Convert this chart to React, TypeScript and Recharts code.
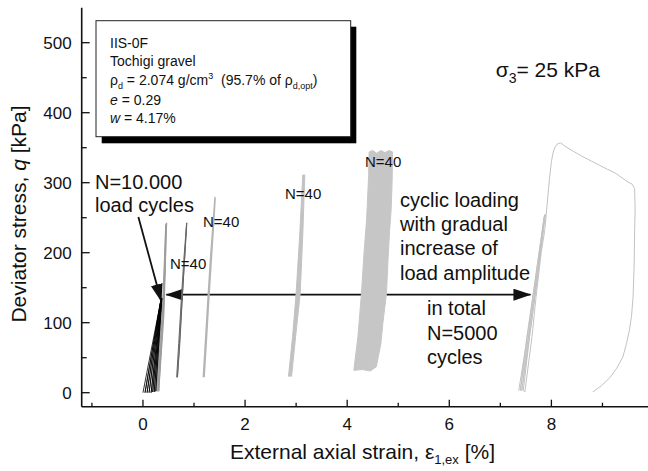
import React from 'react';
import { ScatterChart, Scatter, XAxis, YAxis, ReferenceLine } from 'recharts';

type Pt = [number, number];

// Axis ticks
const X_TICKS = [-1, 0, 1, 2, 3, 4, 5, 6, 7, 8, 9];
const X_LABELED = [0, 2, 4, 6, 8];
const Y_TICKS = [0, 50, 100, 150, 200, 250, 300, 350, 400, 450, 500];
const Y_LABELED = [0, 100, 200, 300, 400, 500];

// Stage 1: N = 10.000 load cycles (strain %, q kPa)
const stage10000: Pt[] = [
  [0.0, 0], [0.34, 128], [0.04, 0], [0.345, 130], [0.08, 0], [0.35, 131],
  [0.12, 0], [0.355, 132], [0.16, 0], [0.36, 133], [0.19, 1], [0.365, 134],
  [0.22, 1], [0.368, 135], [0.25, 2], [0.37, 135],
];

// Stage 2: N = 40, amplitude ~240 kPa
const stage240: Pt[] = [
  [0.27, 2], [0.38, 120], [0.42, 190], [0.445, 240], [0.43, 180], [0.4, 110],
  [0.29, 2], [0.39, 120], [0.43, 190], [0.455, 242], [0.44, 180], [0.41, 110],
  [0.31, 2], [0.4, 120], [0.44, 190], [0.465, 243],
];

// Stage 3: N = 40, amplitude ~242 kPa after reloading
const stage242: Pt[] = [
  [0.66, 22], [0.7, 70], [0.75, 132], [0.8, 190], [0.855, 242],
  [0.81, 185], [0.765, 128], [0.72, 68], [0.675, 22],
  [0.715, 70], [0.765, 132], [0.815, 190], [0.86, 243],
];

// Stage 4: N = 40, amplitude ~280 kPa
const stage280: Pt[] = [
  [1.18, 22], [1.22, 70], [1.27, 132], [1.32, 190], [1.37, 240], [1.41, 280],
  [1.39, 250], [1.34, 190], [1.29, 132], [1.24, 70], [1.2, 22],
  [1.24, 70], [1.29, 132], [1.34, 190], [1.385, 240], [1.415, 278],
];

// Stage 5: N = 40, amplitude ~311 kPa (outline of the loop band)
const stage311: Pt[] = [
  [2.85, 23], [2.93, 80], [3.0, 142], [3.07, 225], [3.13, 311],
  [3.17, 311], [3.13, 225], [3.08, 142], [2.99, 80], [2.91, 23],
];

// Stage 6: N = 40, amplitude ~344 kPa (outline of the loop band)
const stage344: Pt[] = [
  [4.13, 32], [4.21, 80], [4.28, 142], [4.33, 200], [4.38, 247], [4.42, 310], [4.43, 344],
  [4.5, 346], [4.58, 342], [4.66, 346], [4.74, 343], [4.82, 346], [4.89, 344],
  [4.88, 300], [4.86, 260], [4.83, 230], [4.8, 190], [4.77, 142], [4.7, 100], [4.66, 70], [4.57, 37],
  [4.45, 31], [4.3, 33], [4.13, 32],
];

// Final cycles followed by monotonic loading and unloading
const finalLoading: Pt[] = [
  [7.36, 3], [7.55, 90], [7.72, 180], [7.86, 252], [7.7, 170], [7.52, 80],
  [7.39, 3], [7.57, 90], [7.74, 180], [7.87, 254], [7.72, 170], [7.55, 80],
  [7.42, 3], [7.6, 95], [7.76, 185], [7.88, 255], [7.74, 170], [7.58, 85],
  [7.45, 3], [7.48, 1], [7.62, 80], [7.7, 137], [7.8, 200], [7.87, 232],
  [7.93, 280], [7.96, 304], [8.0, 330], [8.03, 342], [8.07, 351], [8.11, 355],
  [8.18, 357], [8.29, 351], [8.45, 344], [8.62, 337], [8.78, 331], [8.94, 325],
  [9.1, 319], [9.27, 313], [9.4, 306], [9.5, 301], [9.58, 298], [9.63, 292],
  [9.64, 260], [9.63, 232], [9.62, 180], [9.6, 137], [9.57, 110], [9.53, 90],
  [9.47, 70], [9.4, 51], [9.28, 35], [9.14, 21], [8.98, 10], [8.81, 1],
];

// Annotation arrows (strain %, q kPa)
const loadCyclesArrow: Pt[] = [[-0.09, 251], [0.357, 131]];
const rangeArrow: Pt[] = [[0.458, 140], [7.59, 140]];

const toRows = (pts: Pt[]) => pts.map(([strain, q]) => ({ strain, q }));
const toSegment = (pts: Pt[]) => pts.map(([x, y]) => ({ x, y }));

const FONT = '"Liberation Sans", Arial, Helvetica, sans-serif';
const INK = '#111';

const noDot = () => <g />;

function BottomTick({ x, y, payload }: any) {
  const major = X_LABELED.includes(payload.value);
  return (
    <g>
      <line x1={x} x2={x} y1={y} y2={y - (major ? 7 : 4)} stroke={INK} strokeWidth={1.3} />
      {major && (
        <text x={x} y={y + 23} textAnchor="middle" fontSize={17} fontFamily={FONT} fill={INK}>
          {payload.value}
        </text>
      )}
    </g>
  );
}

function TopTick({ x, y, payload }: any) {
  const major = X_LABELED.includes(payload.value);
  return <line x1={x} x2={x} y1={y} y2={y + (major ? 7 : 5)} stroke={INK} strokeWidth={1.3} />;
}

function LeftTick({ x, y, payload }: any) {
  const major = Y_LABELED.includes(payload.value);
  return (
    <g>
      <line x1={x} x2={x + (major ? 8 : 5)} y1={y} y2={y} stroke={INK} strokeWidth={1.3} />
      {major && (
        <text x={x - 10} y={y + 6} textAnchor="end" fontSize={17} fontFamily={FONT} fill={INK}>
          {payload.value}
        </text>
      )}
    </g>
  );
}

function RightTick({ x, y, payload }: any) {
  const major = Y_LABELED.includes(payload.value);
  return <line x1={x} x2={x - (major ? 8 : 5)} y1={y} y2={y} stroke={INK} strokeWidth={1.3} />;
}

export default function App() {
  const xDomain: [number, number] = [-1.2, 9.9];
  const yDomain: [number, number] = [-20, 550];
  return (
    <div
      style={{
        position: 'fixed',
        left: 0,
        top: 0,
        width: 648,
        height: 471,
        overflow: 'hidden',
        background: '#fff',
        fontFamily: FONT,
      }}
    >
      <svg width={0} height={0} style={{ position: 'absolute' }}>
        <defs>
          <marker
            id="arrowHead"
            viewBox="0 0 18 12"
            refX={17}
            refY={6}
            markerWidth={18}
            markerHeight={12}
            markerUnits="userSpaceOnUse"
            orient="auto-start-reverse"
          >
            <path d="M0,0 L18,6 L0,12 z" fill={INK} />
          </marker>
        </defs>
      </svg>

      <div style={{ position: 'absolute', left: 0, top: 0 }}>
        <ScatterChart
          width={652}
          height={471}
          margin={{ top: 7.7, right: 3.6, bottom: 0, left: 21.7 }}
        >
          <XAxis
            xAxisId="x"
            dataKey="strain"
            type="number"
            orientation="bottom"
            domain={xDomain}
            allowDataOverflow
            ticks={X_TICKS}
            interval={0}
            height={64.3}
            tickSize={0}
            tickMargin={0}
            tickLine={false}
            axisLine={{ stroke: INK, strokeWidth: 1.6 }}
            tick={BottomTick}
          />
          <XAxis
            xAxisId="top"
            dataKey="strain"
            type="number"
            orientation="top"
            domain={xDomain}
            allowDataOverflow
            ticks={X_TICKS}
            interval={0}
            height={0}
            tickSize={0}
            tickMargin={0}
            tickLine={false}
            axisLine={{ stroke: INK, strokeWidth: 1.6 }}
            tick={TopTick}
          />
          <YAxis
            yAxisId="y"
            dataKey="q"
            type="number"
            orientation="left"
            domain={yDomain}
            allowDataOverflow
            ticks={Y_TICKS}
            interval={0}
            width={60}
            tickSize={0}
            tickMargin={0}
            tickLine={false}
            axisLine={{ stroke: INK, strokeWidth: 1.6 }}
            tick={LeftTick}
          />
          <YAxis
            yAxisId="right"
            dataKey="q"
            type="number"
            orientation="right"
            domain={yDomain}
            allowDataOverflow
            ticks={Y_TICKS}
            interval={0}
            width={0}
            tickSize={0}
            tickMargin={0}
            tickLine={false}
            axisLine={{ stroke: INK, strokeWidth: 1.6 }}
            tick={RightTick}
          />

          <Scatter
            xAxisId="x"
            yAxisId="y"
            data={toRows(stage240)}
            line={{ stroke: '#9c9c9c', strokeWidth: 1 }}
            lineType="joint"
            shape={noDot}
            isAnimationActive={false}
          />
          <Scatter
            xAxisId="x"
            yAxisId="y"
            data={toRows(stage10000)}
            line={{ stroke: '#000', strokeWidth: 0.8 }}
            lineType="joint"
            shape={noDot}
            isAnimationActive={false}
          />
          <Scatter
            xAxisId="x"
            yAxisId="y"
            data={toRows(stage242)}
            line={{ stroke: '#666', strokeWidth: 1 }}
            lineType="joint"
            shape={noDot}
            isAnimationActive={false}
          />
          <Scatter
            xAxisId="x"
            yAxisId="y"
            data={toRows(stage280)}
            line={{ stroke: '#b4b4b4', strokeWidth: 1.3 }}
            lineType="joint"
            shape={noDot}
            isAnimationActive={false}
          />
          <Scatter
            xAxisId="x"
            yAxisId="y"
            data={toRows(stage311)}
            line={{ stroke: '#c2c2c2', fill: '#c2c2c2', strokeWidth: 1 }}
            lineType="joint"
            shape={noDot}
            isAnimationActive={false}
          />
          <Scatter
            xAxisId="x"
            yAxisId="y"
            data={toRows(stage344)}
            line={{ stroke: '#c6c6c6', fill: '#c6c6c6', strokeWidth: 1 }}
            lineType="joint"
            shape={noDot}
            isAnimationActive={false}
          />
          <Scatter
            xAxisId="x"
            yAxisId="y"
            data={toRows(finalLoading)}
            line={{ stroke: '#c2c2c2', strokeWidth: 1 }}
            lineType="joint"
            shape={noDot}
            isAnimationActive={false}
          />

          <ReferenceLine
            xAxisId="x"
            yAxisId="y"
            segment={toSegment(loadCyclesArrow)}
            stroke={INK}
            strokeWidth={1.8}
            markerEnd="url(#arrowHead)"
          />
          <ReferenceLine
            xAxisId="x"
            yAxisId="y"
            segment={toSegment(rangeArrow)}
            stroke={INK}
            strokeWidth={1.8}
            markerStart="url(#arrowHead)"
            markerEnd="url(#arrowHead)"
          />
        </ScatterChart>
      </div>

      <svg
        width={648}
        height={471}
        style={{ position: 'absolute', left: 0, top: 0, pointerEvents: 'none' }}
        fontFamily={FONT}
        fill={INK}
      >
        {/* specimen info box with drop shadow */}
        <rect x={101.7} y={26.7} width={254.6} height={116.6} fill="#000" />
        <rect x={96} y={20.7} width={254.7} height={116} fill="#fff" stroke="#222" strokeWidth={1} />
        <g fontSize={14}>
          <text x={110} y={48}>IIS-0F</text>
          <text x={110} y={66}>Tochigi gravel</text>
          <text x={110} y={85}>
            ρ<tspan fontSize={9} dy={4}>d</tspan>
            <tspan dy={-4}> = 2.074 g/cm</tspan>
            <tspan fontSize={9} dy={-6}>3</tspan>
            <tspan dy={6}>{'\u00a0 (95.7% of ρ'}</tspan>
            <tspan fontSize={9} dy={4}>d,opt</tspan>
            <tspan dy={-4}>)</tspan>
          </text>
          <text x={110} y={105}>
            <tspan fontStyle="italic">e</tspan> = 0.29
          </text>
          <text x={110} y={123}>
            <tspan fontStyle="italic">w</tspan> = 4.17%
          </text>
        </g>

        <text x={495.7} y={77} fontSize={21}>
          σ<tspan fontSize={14} dy={6}>3</tspan>
          <tspan dy={-6}>= 25 kPa</tspan>
        </text>

        <g fontSize={20}>
          <text x={95} y={189}>N=10.000</text>
          <text x={95} y={212}>load cycles</text>
          <text x={400} y={207}>cyclic loading</text>
          <text x={400} y={231}>with gradual</text>
          <text x={400} y={255}>increase of</text>
          <text x={400} y={280}>load amplitude</text>
          <text x={427} y={315}>in total</text>
          <text x={427} y={340}>N=5000</text>
          <text x={427} y={364}>cycles</text>
        </g>

        <g fontSize={15}>
          <text x={170} y={268.5}>N=40</text>
          <text x={203} y={227}>N=40</text>
          <text x={285} y={198.5}>N=40</text>
          <text x={365} y={166.5}>N=40</text>
        </g>

        <text transform="translate(26,214) rotate(-90)" textAnchor="middle" fontSize={21}>
          Deviator stress, <tspan fontStyle="italic">q</tspan> [kPa]
        </text>
        <text x={230} y={459} fontSize={21}>
          External axial strain, ε<tspan fontSize={13} dy={5}>1,ex</tspan>
          <tspan dy={-5}> [%]</tspan>
        </text>
      </svg>
    </div>
  );
}
